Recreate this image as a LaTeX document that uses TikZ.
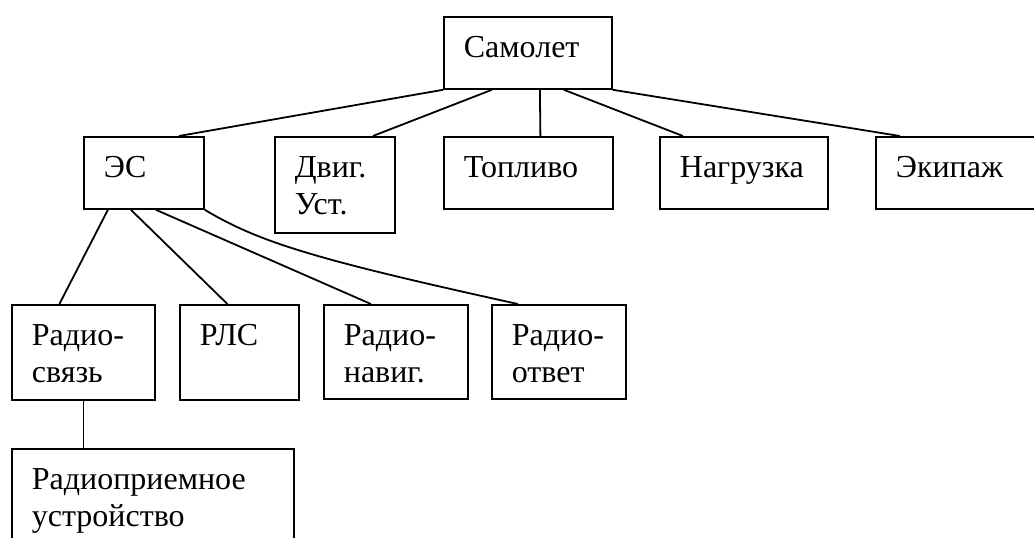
\documentclass[tikz,border=0pt]{standalone}
\usepackage{fontspec}
\setmainfont{Liberation Serif}
\usetikzlibrary{calc}
\tikzset{blok/.style={draw, line width=1.8pt, anchor=north west, inner xsep=20pt, inner ysep=0pt, text height=41pt, font=\fontsize{32}{37}\selectfont}}
% name, top-left corner, width, height, text
\newcommand\blok[5]{\node[blok, text depth=\dimexpr#4pt-41pt\relax] (#1) at (#2) {\parbox[t]{\dimexpr#3pt-40pt\relax}{#5}};}

\begin{document}
\begin{tikzpicture}[x=1pt, y=-1pt, line width=1.8pt]
			%%%%% START %%%%%
			
			\useasboundingbox (0,0) rectangle (1034,538);
			\fill[white] (0,0) rectangle (1034,538);
			\clip (0,0) rectangle (1034,538);
			
			\blok{sam}{443,16}{168}{72}{Самолет}
			
			\blok{es}{83,136}{120}{72}{ЭС}
			\blok{dv}{274,136}{120}{96}{Двиг.\\Уст.}
			\blok{top}{443,136}{169}{72}{Топливо}
			\blok{nag}{659,136}{168}{72}{Нагрузка}
			\blok{eki}{875,136}{170}{72}{Экипаж}
			
			\blok{rs}{11,304}{143}{95}{Радио-\\связь}
			\blok{rls}{179,304}{119}{95}{РЛС}
			\blok{rn}{323,304}{144}{94}{Радио-\\навиг.}
			\blok{ro}{491,304}{134}{94}{Радио-\\ответ}
			
			\blok{rp}{11,448}{282}{110}{Радиоприемное\\устройство}
			
			\draw (sam.south west) -- ([xshift=35pt]es.north);
			\draw ([xshift=-36pt]sam.south) -- ([xshift=38pt]dv.north);
			\draw ([xshift=12pt]sam.south) -- ([xshift=12pt]top.north);
			\draw ([xshift=36pt]sam.south) -- ([xshift=-61pt]nag.north);
			\draw (sam.south east) -- ([xshift=-61pt]eki.north);
			
			\draw ([xshift=-36pt]es.south) -- ([xshift=-24pt]rs.north);
			\draw ([xshift=-13pt]es.south) -- ([xshift=-12pt]rls.north);
			\draw ([xshift=12pt]es.south) -- ([xshift=-25pt]rn.north);
			\draw (es.south east) .. controls +(55,33) and +(-200,-44) .. ([xshift=-41pt]ro.north);
			
			\draw (rs.south) -- (rs.south |- rp.north);
			
			%%%%% END %%%%%
\end{tikzpicture}
\end{document}
